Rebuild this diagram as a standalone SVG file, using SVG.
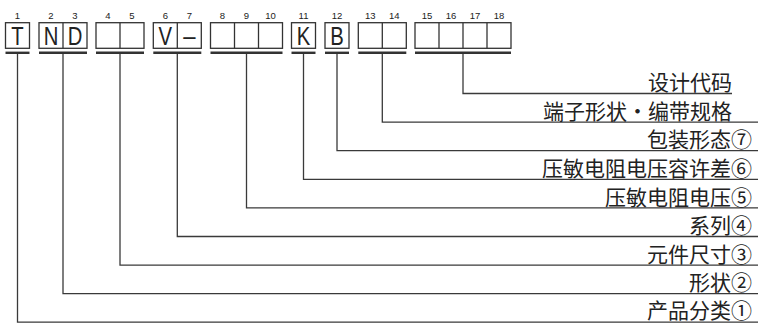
<svg xmlns="http://www.w3.org/2000/svg" width="760" height="323" viewBox="0 0 760 323">
<style>
.bg{fill:#fff}
.box{fill:none;stroke:#333;stroke-width:1.3}
.bar{stroke:#333;stroke-width:2.4}
.num{font-family:"Liberation Sans",Arial,sans-serif;font-size:9.5px;fill:#222;text-anchor:middle}
.let{font-family:"Liberation Sans",Arial,sans-serif;font-size:26px;fill:#222;text-anchor:middle}
.lbl{font-family:"Noto Sans CJK SC","Noto Sans",sans-serif;font-size:21px;fill:#222;text-anchor:end}
.con{fill:none;stroke:#3a3a3a;stroke-width:1.3}
</style>
<rect class="bg" x="0" y="0" width="760" height="323"/>

<g id="code1">
<rect class="box" x="5.5" y="22.7" width="24" height="25.6"/>
<line class="bar" x1="5.5" y1="52.8" x2="29.5" y2="52.8"/>
<text class="num" x="17.5" y="19.3">1</text>
<text class="let" transform="translate(17.5,45) scale(0.78,1)">T</text>
</g>

<g id="code2-3">
<rect class="box" x="39" y="22.7" width="48" height="25.6"/>
<line class="box" x1="63" y1="22.7" x2="63" y2="48.3"/>
<line class="bar" x1="39" y1="52.8" x2="87" y2="52.8"/>
<text class="num" x="51" y="19.3">2</text>
<text class="num" x="75" y="19.3">3</text>
<text class="let" transform="translate(51,45) scale(0.78,1)">N</text>
<text class="let" transform="translate(75,45) scale(0.78,1)">D</text>
</g>

<g id="code4-5">
<rect class="box" x="96" y="22.7" width="48" height="25.6"/>
<line class="box" x1="120" y1="22.7" x2="120" y2="48.3"/>
<line class="bar" x1="96" y1="52.8" x2="144" y2="52.8"/>
<text class="num" x="108" y="19.3">4</text>
<text class="num" x="132" y="19.3">5</text>
</g>

<g id="code6-7">
<rect class="box" x="153.3" y="22.7" width="48" height="25.6"/>
<line class="box" x1="177.3" y1="22.7" x2="177.3" y2="48.3"/>
<line class="bar" x1="153.3" y1="52.8" x2="201.3" y2="52.8"/>
<text class="num" x="165.3" y="19.3">6</text>
<text class="num" x="189.3" y="19.3">7</text>
<text class="let" transform="translate(165.3,45) scale(0.78,1)">V</text>
<text class="let" transform="translate(189.3,45) scale(0.85,1)">–</text>
</g>

<g id="code8-10">
<rect class="box" x="210.5" y="22.7" width="72" height="25.6"/>
<line class="box" x1="234.5" y1="22.7" x2="234.5" y2="48.3"/>
<line class="box" x1="258.5" y1="22.7" x2="258.5" y2="48.3"/>
<line class="bar" x1="210.5" y1="52.8" x2="282.5" y2="52.8"/>
<text class="num" x="222.5" y="19.3">8</text>
<text class="num" x="246.5" y="19.3">9</text>
<text class="num" x="270.5" y="19.3">10</text>
</g>

<g id="code11">
<rect class="box" x="291.5" y="22.7" width="24" height="25.6"/>
<line class="bar" x1="291.5" y1="52.8" x2="315.5" y2="52.8"/>
<text class="num" x="303.5" y="19.3">11</text>
<text class="let" transform="translate(303.5,45) scale(0.78,1)">K</text>
</g>

<g id="code12">
<rect class="box" x="325" y="22.7" width="24" height="25.6"/>
<line class="bar" x1="325" y1="52.8" x2="349" y2="52.8"/>
<text class="num" x="337" y="19.3">12</text>
<text class="let" transform="translate(337,45) scale(0.78,1)">B</text>
</g>

<g id="code13-14">
<rect class="box" x="358.3" y="22.7" width="48" height="25.6"/>
<line class="box" x1="382.3" y1="22.7" x2="382.3" y2="48.3"/>
<line class="bar" x1="358.3" y1="52.8" x2="406.3" y2="52.8"/>
<text class="num" x="370.3" y="19.3">13</text>
<text class="num" x="394.3" y="19.3">14</text>
</g>

<g id="code15-18">
<rect class="box" x="415" y="22.7" width="96" height="25.6"/>
<line class="box" x1="439" y1="22.7" x2="439" y2="48.3"/>
<line class="box" x1="463" y1="22.7" x2="463" y2="48.3"/>
<line class="box" x1="487" y1="22.7" x2="487" y2="48.3"/>
<line class="bar" x1="415" y1="52.8" x2="511" y2="52.8"/>
<text class="num" x="427" y="19.3">15</text>
<text class="num" x="451" y="19.3">16</text>
<text class="num" x="475" y="19.3">17</text>
<text class="num" x="499" y="19.3">18</text>
</g>

<g id="connectors">
<polyline class="con" points="463,54 463,93.5 732,93.5"/>
<polyline class="con" points="382.3,54 382.3,122.1 758,122.1"/>
<polyline class="con" points="337,54 337,150.7 758,150.7"/>
<polyline class="con" points="303.5,54 303.5,179.3 758,179.3"/>
<polyline class="con" points="246.5,54 246.5,207.9 758,207.9"/>
<polyline class="con" points="177.3,54 177.3,236.5 758,236.5"/>
<polyline class="con" points="120,54 120,265.1 758,265.1"/>
<polyline class="con" points="63,54 63,293.7 758,293.7"/>
<polyline class="con" points="17.5,54 17.5,322.2 758,322.2"/>
</g>

<g id="label-design"><text class="lbl" x="732" y="90.2">设计代码</text></g>
<g id="label-terminal"><text class="lbl" x="732" y="118.8">端子形状・编带规格</text></g>
<g id="label-packing"><text class="lbl" x="752" y="147.4">包装形态⑦</text></g>
<g id="label-tolerance"><text class="lbl" x="752" y="176">压敏电阻电压容许差⑥</text></g>
<g id="label-voltage"><text class="lbl" x="752" y="204.6">压敏电阻电压⑤</text></g>
<g id="label-series"><text class="lbl" x="752" y="233.2">系列④</text></g>
<g id="label-size"><text class="lbl" x="752" y="261.8">元件尺寸③</text></g>
<g id="label-shape"><text class="lbl" x="752" y="290.4">形状②</text></g>
<g id="label-class"><text class="lbl" x="752" y="317.6">产品分类①</text></g>
</svg>
